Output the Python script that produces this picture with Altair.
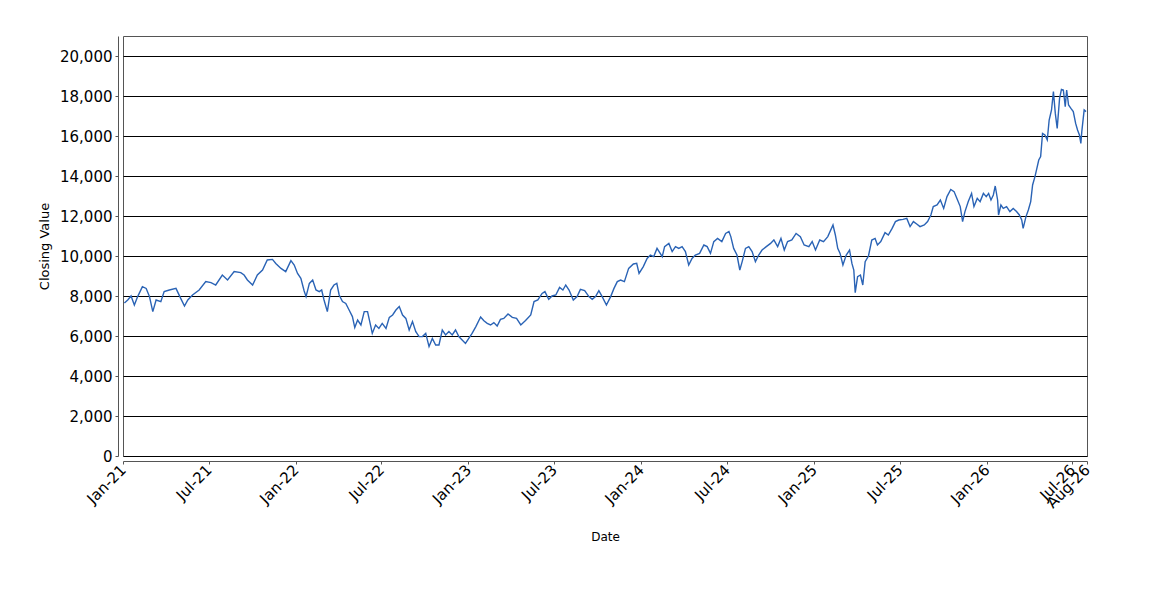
import altair as alt
import pandas as pd

# Day offsets from 2021-01-01 and closing values
days_2021 = [3, 10, 17, 24, 31, 41, 49, 56, 63, 70, 80, 87, 98, 112, 122, 130, 137, 147, 161, 175,
             186, 196, 210, 221, 235, 249, 256, 263, 274, 284, 295, 305, 316, 323, 334, 344, 355, 362,
             369, 376, 383]
vals_2021 = [7650, 7800, 8000, 7550, 7970, 8470, 8380, 7970, 7220, 7800, 7720, 8220, 8300, 8380, 7880,
             7500, 7800, 8050, 8300, 8720, 8670, 8550, 9050, 8800, 9220, 9170, 9050, 8800, 8550, 9050,
             9300, 9800, 9830, 9630, 9380, 9220, 9770, 9550, 9130, 8880, 8250]

days_2022 = [387, 394, 401, 408, 415, 420, 425, 432, 439, 446, 452, 457, 464, 471, 478, 485, 490, 496,
             503, 510, 517, 524, 527, 534, 541, 548, 556, 563, 570, 577, 584, 591, 598, 605, 612, 619,
             626, 633, 640, 647, 654, 661, 668, 675, 682, 689, 696, 703, 710, 717, 724, 731, 738, 746,
             756, 763]
vals_2022 = [7970, 8630, 8800, 8300, 8220, 8300, 7800, 7220, 8300, 8550, 8630, 8050, 7720, 7630, 7300,
             6970, 6420, 6800, 6550, 7220, 7220, 6470, 6130, 6550, 6380, 6630, 6380, 6930, 7050, 7300,
             7470, 7050, 6880, 6300, 6720, 6220, 5970, 5970, 6130, 5470, 5880, 5550, 5550, 6300, 6050,
             6220, 6050, 6300, 5970, 5800, 5630, 5880, 6130, 6470, 6950, 6760]

days_2023 = [770, 777, 784, 791, 798, 805, 814, 823, 832, 841, 851, 862, 869, 877, 886, 892, 900, 907,
             915, 923, 930, 936, 943, 952, 960, 967, 976, 985, 992, 999, 1006, 1013, 1022, 1031, 1038,
             1045, 1052, 1060, 1069, 1079, 1086, 1091, 1100, 1108, 1115, 1122, 1129, 1140]
vals_2023 = [6630, 6550, 6670, 6500, 6830, 6880, 7100, 6930, 6880, 6550, 6770, 7050, 7720, 7800, 8130,
             8220, 7830, 8000, 8050, 8430, 8300, 8550, 8300, 7800, 7970, 8330, 8270, 7970, 7830, 7970,
             8270, 7970, 7550, 7970, 8380, 8720, 8800, 8720, 9380, 9600, 9630, 9130, 9470, 9880, 10050,
             9970, 10380, 9970]

days_2024 = [1145, 1154, 1161, 1168, 1175, 1182, 1189, 1196, 1203, 1210, 1219, 1228, 1235, 1242, 1249,
             1257, 1266, 1274, 1281, 1285, 1291, 1298, 1304, 1309, 1316, 1323, 1330, 1337, 1344, 1351,
             1360, 1369, 1376, 1384, 1391, 1398, 1405, 1414, 1423, 1432, 1440, 1450, 1457, 1464, 1473,
             1481, 1490]
vals_2024 = [10470, 10630, 10220, 10470, 10380, 10470, 10220, 9550, 9880, 10050, 10130, 10550, 10470,
             10130, 10720, 10880, 10720, 11130, 11220, 10970, 10380, 10050, 9300, 9720, 10380, 10470,
             10220, 9720, 10050, 10300, 10470, 10630, 10800, 10470, 10880, 10300, 10720, 10800, 11130,
             10970, 10550, 10470, 10720, 10300, 10800, 10720, 10970]

days_2025 = [1501, 1506, 1511, 1516, 1522, 1529, 1536, 1541, 1545, 1548, 1553, 1559, 1564, 1569, 1576,
             1583, 1590, 1595, 1602, 1611, 1618, 1626, 1633, 1640, 1649, 1657, 1664, 1671, 1678, 1685,
             1694, 1701, 1708, 1713, 1721, 1728, 1735, 1742, 1750, 1757, 1763, 1770, 1775, 1780, 1787,
             1794, 1799, 1806]
vals_2025 = [11550, 11050, 10380, 10130, 9550, 10050, 10300, 9630, 9300, 8170, 8970, 9050, 8550, 9720,
             10000, 10800, 10880, 10550, 10720, 11170, 11050, 11380, 11720, 11800, 11830, 11880, 11470,
             11720, 11600, 11470, 11550, 11720, 12050, 12470, 12550, 12800, 12380, 12970, 13330, 13220,
             12880, 12470, 11720, 12220, 12720, 13130, 12470, 12880]

days_2026 = [1812, 1819, 1825, 1830, 1835, 1840, 1844, 1849, 1851, 1856, 1861, 1868, 1875, 1882, 1889,
             1895, 1900, 1903, 1909, 1914, 1919, 1923, 1928, 1932, 1936, 1940, 1944, 1949, 1954, 1958,
             1963, 1967, 1971, 1975, 1980, 1984, 1988, 1992, 1995, 1999, 2004, 2009, 2014, 2018, 2022,
             2025, 2027, 2032, 2036]
vals_2026 = [12720, 13130, 12970, 13130, 12800, 13050, 13500, 12800, 12050, 12550, 12380, 12470, 12220,
             12380, 12220, 12050, 11800, 11380, 11970, 12300, 12720, 13550, 13970, 14380, 14800, 14970,
             16130, 16050, 15800, 16800, 17300, 18220, 17130, 16380, 17880, 18330, 18300, 17470, 18300,
             17550, 17380, 17220, 16630, 16300, 16050, 15630, 16220, 17300, 17220]

y_ticks = [0, 2000, 4000, 6000, 8000, 10000, 12000, 14000, 16000, 18000, 20000]
x_tick_dates = [(2021, 1), (2021, 7), (2022, 1), (2022, 7), (2023, 1), (2023, 7), (2024, 1),
                (2024, 7), (2025, 1), (2025, 7), (2026, 1), (2026, 7), (2026, 8)]

all_days = days_2021 + days_2022 + days_2023 + days_2024 + days_2025 + days_2026
all_vals = vals_2021 + vals_2022 + vals_2023 + vals_2024 + vals_2025 + vals_2026

df = pd.DataFrame({
    "Date": pd.Timestamp("2021-01-01") + pd.to_timedelta(all_days, unit="D"),
    "Closing Value": all_vals,
})
df["Date"] = df["Date"].dt.strftime("%Y-%m-%dT%H:%M:%S")

x_vals = [alt.DateTime(year=y, month=m, date=1) for y, m in x_tick_dates]

chart = alt.Chart(df).mark_line(color="#2a63b5", strokeWidth=1.4).encode(
    x=alt.X(
        "Date:T",
        scale=alt.Scale(domain=[alt.DateTime(year=2021, month=1, date=1),
                                alt.DateTime(year=2026, month=8, date=1)]),
        axis=alt.Axis(
            values=x_vals, format="%b-%y", labelAngle=-45, labelAlign="right",
            labelBaseline="middle", labelFontSize=15, labelColor="black", labelFont="DejaVu Sans",
            labelPadding=3, grid=False, offset=5, tickSize=3, tickColor="#555",
            domainColor="#555", title="Date", titleFontSize=12, titleFontWeight="normal",
            titleFont="DejaVu Sans", titleColor="black", titlePadding=21, labelOverlap=False,
        ),
    ),
    y=alt.Y(
        "Closing Value:Q",
        scale=alt.Scale(domain=[0, 21000], nice=False),
        axis=alt.Axis(
            values=y_ticks, format=",d", labelFontSize=15, labelColor="black",
            labelFont="DejaVu Sans", labelPadding=3, grid=True, gridColor="black",
            gridOpacity=1, gridWidth=1, offset=5, tickSize=3, tickColor="#555",
            domainColor="#555", title="Closing Value", titleFontSize=13,
            titleFontWeight="normal", titleFont="DejaVu Sans", titleColor="black",
            titlePadding=8,
        ),
    ),
).properties(
    width=964, height=420, padding={"left": 115, "top": 28, "right": 40, "bottom": 120},
    autosize=alt.AutoSizeParams(type="none"),
).configure_view(stroke="#555", strokeWidth=1)

chart.save("out.html", embed_options={"renderer": "svg", "actions": False})
